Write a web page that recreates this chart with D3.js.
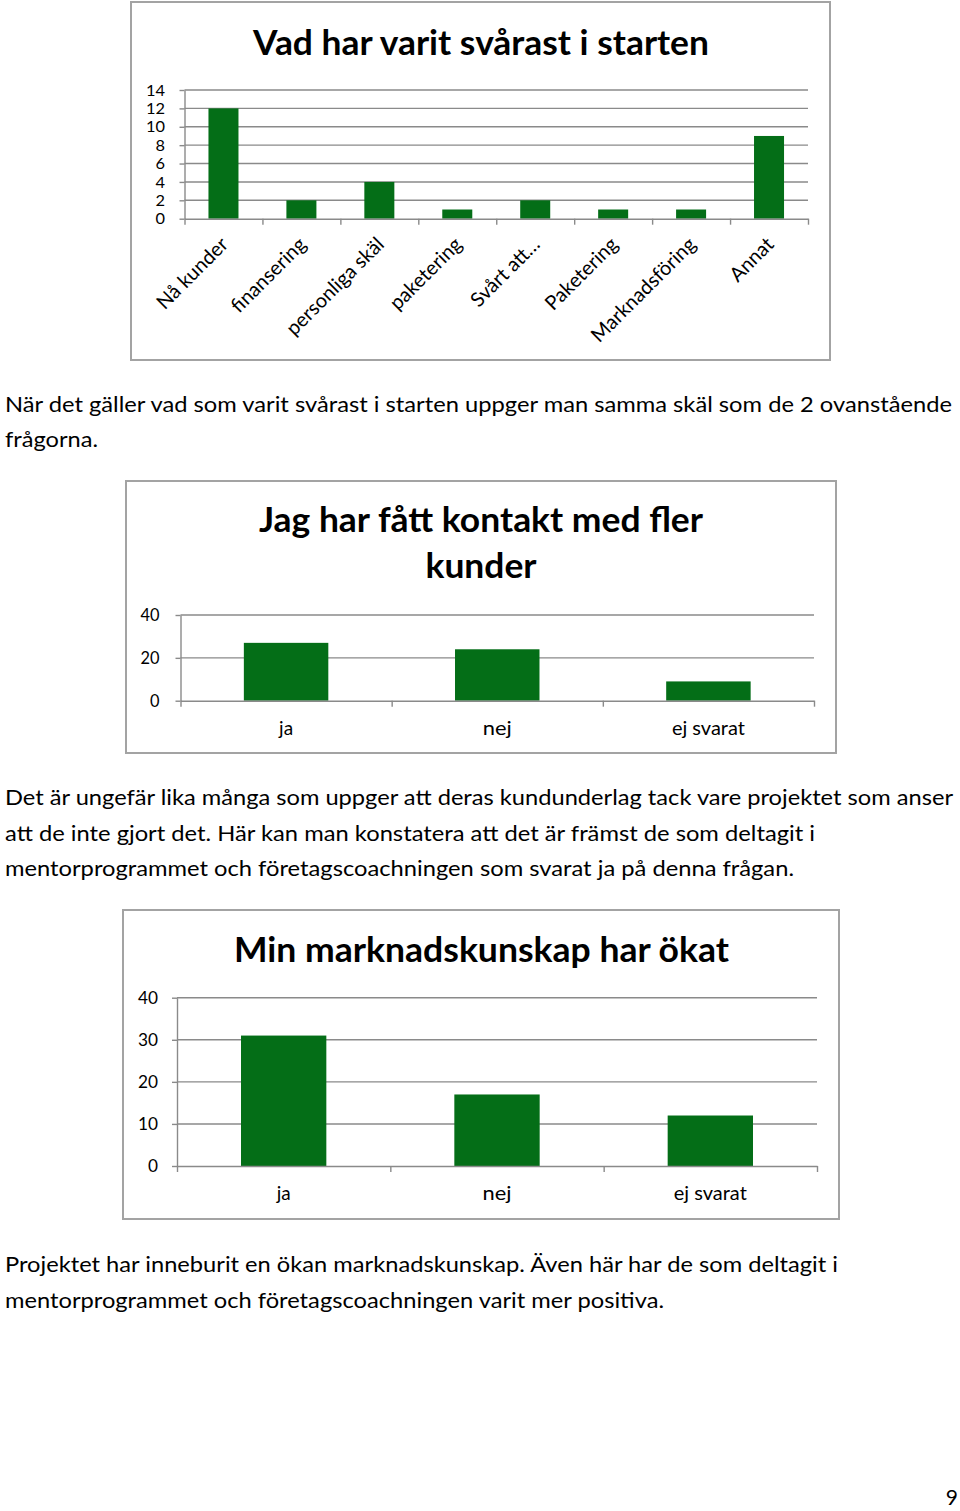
<!DOCTYPE html>
<html><head><meta charset="utf-8">
<script src="https://cdn.jsdelivr.net/npm/d3@7"></script>
<style>
html,body{margin:0;padding:0;background:#fff;}
svg text{font-family:Lato,"Open Sans",sans-serif;fill:#000;}
</style></head><body>
<svg id="page" width="960" height="1511"></svg>
<script>
// ---------- data ----------
const chart1Title = ["Vad har varit svårast i starten"];
const chart1Categories = ["Nå kunder","finansering","personliga skäl","paketering","Svårt att…","Paketering","Marknadsföring","Annat"];
const chart1Values = [12,2,4,1,2,1,1,9];
const chart1Ticks = [0,2,4,6,8,10,12,14];

const chart2Title = ["Jag har fått kontakt med fler","kunder"];
const chart2Categories = ["ja","nej","ej svarat"];
const chart2Values = [27,24,9];
const chart2Ticks = [0,20,40];

const chart3Title = ["Min marknadskunskap har ökat"];
const chart3Categories = ["ja","nej","ej svarat"];
const chart3Values = [31,17,12];
const chart3Ticks = [0,10,20,30,40];

const paragraph1 = [
  "När det gäller vad som varit svårast i starten uppger man samma skäl som de 2 ovanstående",
  "frågorna."
];
const paragraph2 = [
  "Det är ungefär lika många som uppger att deras kundunderlag tack vare projektet som anser",
  "att de inte gjort det. Här kan man konstatera att det är främst de som deltagit i",
  "mentorprogrammet och företagscoachningen som svarat ja på denna frågan."
];
const paragraph3 = [
  "Projektet har inneburit en ökan marknadskunskap. Även här har de som deltagit i",
  "mentorprogrammet och företagscoachningen varit mer positiva."
];
const pageNumber = "9";

// ---------- drawing ----------
const svg = d3.select("#page");
const BAR = "#046e17", GRID = "#8a8a8a", FRAME = "#a3a3a3";

function fit(sel, w) {
  if (w) sel.attr("textLength", w).attr("lengthAdjust", "spacingAndGlyphs");
  return sel;
}

function drawChart(cfg) {
  const g = svg.append("g");
  g.append("rect")
    .attr("x", cfg.frame[0]).attr("y", cfg.frame[1])
    .attr("width", cfg.frame[2] - cfg.frame[0]).attr("height", cfg.frame[3] - cfg.frame[1])
    .attr("fill", "#fff").attr("stroke", FRAME).attr("stroke-width", 2);

  cfg.title.forEach((t, i) => {
    const tx = g.append("text").text(t)
      .attr("x", cfg.titleCx).attr("y", cfg.titleY[i])
      .attr("text-anchor", "middle").attr("font-weight", "bold")
      .attr("font-size", cfg.titleSize);
    fit(tx, cfg.titleW[i]);
  });

  const x = d3.scaleBand().domain(cfg.categories).range([cfg.x0, cfg.x1])
    .paddingInner(cfg.pad).paddingOuter(cfg.pad / 2);
  const y = d3.scaleLinear().domain([0, d3.max(cfg.ticks)]).range([cfg.y0, cfg.yTop]);
  const xi = d3.scaleLinear().domain([0, cfg.categories.length]).range([cfg.x0, cfg.x1]);

  // gridlines
  g.append("g").selectAll("line").data(cfg.ticks.filter(t => t > 0)).join("line")
    .attr("x1", cfg.x0).attr("x2", cfg.x1)
    .attr("y1", d => y(d)).attr("y2", d => y(d))
    .attr("stroke", GRID).attr("stroke-width", 1.4);

  // bars
  g.append("g").selectAll("rect").data(cfg.values).join("rect")
    .attr("x", (d, i) => x(cfg.categories[i]))
    .attr("width", x.bandwidth())
    .attr("y", d => y(d))
    .attr("height", d => cfg.y0 - y(d))
    .attr("fill", BAR);

  // y axis
  const ya = g.append("g").attr("transform", `translate(${cfg.x0},0)`)
    .call(d3.axisLeft(y).tickValues(cfg.ticks).tickSize(5).tickSizeOuter(0).tickPadding(cfg.yPad));
  ya.attr("font-family", null).attr("font-size", cfg.tickSize);
  ya.selectAll("path,line").attr("stroke", GRID).attr("stroke-width", 1.4);
  ya.selectAll("text").each(function(d) {
    const s = String(d);
    d3.select(this).attr("textLength", s.length * cfg.digitW).attr("lengthAdjust", "spacingAndGlyphs");
  });

  // x axis (ticks at category boundaries)
  const xa = g.append("g").attr("transform", `translate(0,${cfg.y0})`)
    .call(d3.axisBottom(xi).tickValues(d3.range(cfg.categories.length + 1)).tickFormat("").tickSize(6).tickSizeOuter(0));
  xa.selectAll("path,line").attr("stroke", GRID).attr("stroke-width", 1.4);

  // category labels
  const lab = g.append("g").selectAll("text").data(cfg.categories).join("text")
    .text(d => d).attr("font-size", cfg.labelSize);
  if (cfg.rotate) {
    lab.attr("text-anchor", "end").attr("dy", "0.35em")
      .attr("transform", d => `translate(${x(d) + x.bandwidth() / 2 + cfg.labDx},${cfg.y0 + cfg.labDy}) rotate(-45)`);
  } else {
    lab.attr("text-anchor", "middle")
      .attr("x", d => x(d) + x.bandwidth() / 2)
      .attr("y", cfg.y0 + cfg.labDy)
      .each(function(d, i) { if (cfg.labW) fit(d3.select(this), cfg.labW[i]); });
  }
}

drawChart({
  frame: [131, 2, 830, 360],
  title: chart1Title, titleCx: 481, titleY: [55], titleW: [456], titleSize: 34,
  categories: chart1Categories, values: chart1Values, ticks: chart1Ticks,
  x0: 184.5, x1: 808, y0: 218.7, yTop: 90, pad: 0.615,
  tickSize: 16, yPad: 14.5, digitW: 9.5,
  labelSize: 20, rotate: true, labDx: 1, labDy: 22
});

drawChart({
  frame: [126, 481, 836, 753],
  title: chart2Title, titleCx: 481, titleY: [532, 578], titleW: [444, 111], titleSize: 34,
  categories: chart2Categories, values: chart2Values, ticks: chart2Ticks,
  x0: 180.5, x1: 814, y0: 700.7, yTop: 615, pad: 0.6,
  tickSize: 18, yPad: 16, digitW: 9.5,
  labelSize: 19, rotate: false, labDy: 34, labW: [14, 29, 73]
});

drawChart({
  frame: [123, 910, 839, 1219],
  title: chart3Title, titleCx: 481.5, titleY: [962], titleW: [495], titleSize: 35,
  categories: chart3Categories, values: chart3Values, ticks: chart3Ticks,
  x0: 177, x1: 817, y0: 1166, yTop: 997.7, pad: 0.6,
  tickSize: 18, yPad: 14, digitW: 10,
  labelSize: 19, rotate: false, labDy: 34, labW: [14, 29, 73]
});

function drawParagraph(lines, x, ys, ends, size) {
  lines.forEach((t, i) => {
    const tx = svg.append("text").text(t).attr("x", x).attr("y", ys[i]).attr("font-size", size);
    fit(tx, ends[i] - x);
  });
}
drawParagraph(paragraph1, 5, [412, 447], [952, 98], 22);
drawParagraph(paragraph2, 5, [805, 841, 876], [953, 815, 794], 22);
drawParagraph(paragraph3, 5, [1272, 1308], [838, 664], 22);

svg.append("text").text(pageNumber).attr("x", 958).attr("y", 1505)
  .attr("text-anchor", "end").attr("font-size", 21);
</script>
</body></html>
